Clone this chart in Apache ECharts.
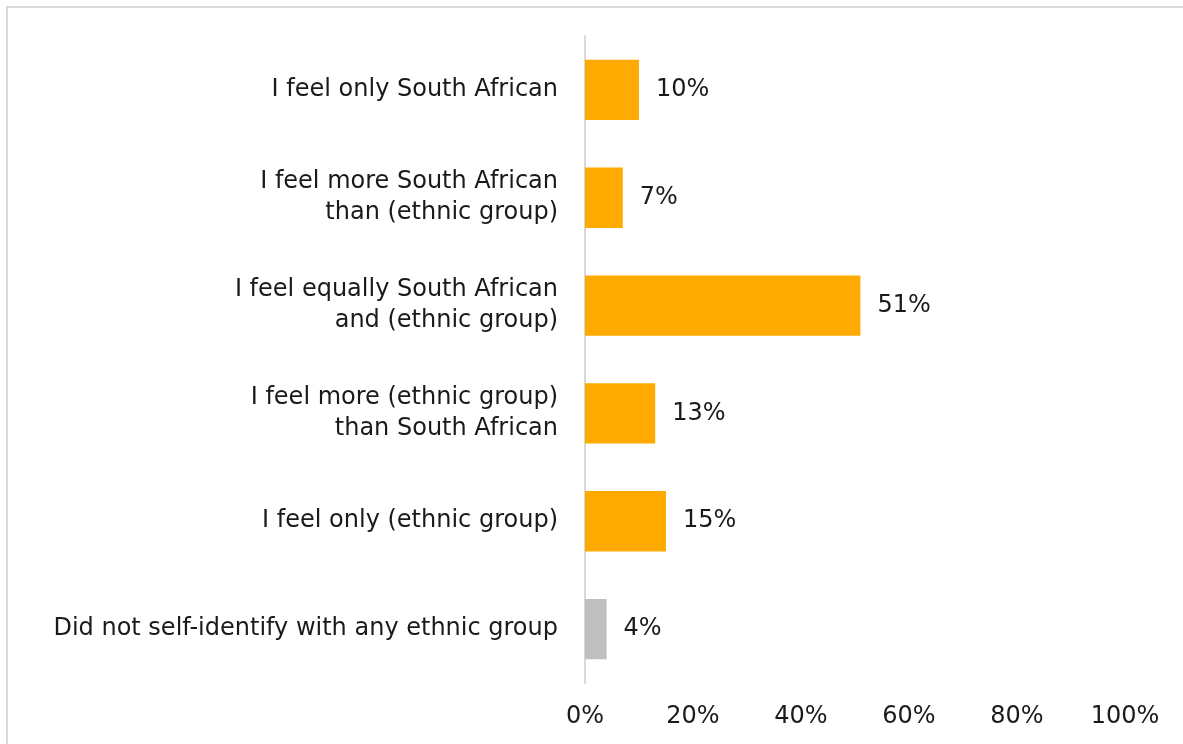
<!DOCTYPE html>
<html>
<head>
<meta charset="utf-8">
<script src="https://cdn.jsdelivr.net/npm/echarts@6/dist/echarts.min.js"></script>
<style>
  html, body { margin: 0; padding: 0; background: #fff; overflow: hidden; }
  #frame { position: absolute; left: 6px; top: 6px; width: 1200px; height: 760px; border: 2px solid #d9d9d9; box-sizing: border-box; }
  #chart { position: absolute; left: 0; top: 0; width: 1183px; height: 744px; }
</style>
</head>
<body>
<div id="frame"></div>
<div id="chart"></div>
<script>
// Survey categories, top to bottom
const categories = [
  'I feel only South African',
  'I feel more South African\nthan (ethnic group)',
  'I feel equally South African\nand (ethnic group)',
  'I feel more (ethnic group)\nthan South African',
  'I feel only (ethnic group)',
  'Did not self-identify with any ethnic group'
];
// Share of respondents, percent
const values = [10, 7, 51, 13, 15, 4];
// Bar colours per category
const barColors = ['#FFAA00', '#FFAA00', '#FFAA00', '#FFAA00', '#FFAA00', '#BFBFBF'];
// Axis ticks
const axisMin = 0;
const axisMax = 100;
const axisStep = 20;

const FONT = 'DejaVu Sans';
const TEXT = '#1a1a1a';
const SIZE = 24;

const chart = echarts.init(document.getElementById('chart'), null, { renderer: 'canvas' });
chart.setOption({
  animation: false,
  backgroundColor: 'transparent',
  grid: { left: 585, right: 58, top: 36, bottom: 61, containLabel: false },
  xAxis: {
    type: 'value',
    min: axisMin, max: axisMax, interval: axisStep,
    axisLine: { show: false },
    axisTick: { show: false },
    splitLine: { show: false },
    axisLabel: { formatter: '{value}%', color: TEXT, fontFamily: FONT, fontSize: SIZE, margin: 22 }
  },
  yAxis: {
    type: 'category',
    inverse: true,
    data: categories,
    axisLine: { show: true, lineStyle: { color: '#d9d9d9', width: 2 } },
    axisTick: { show: false },
    axisLabel: { color: TEXT, fontFamily: FONT, fontSize: SIZE, margin: 27, lineHeight: 31, align: 'right' }
  },
  series: [{
    type: 'bar',
    barCategoryGap: '44%',
    data: values.map((v, i) => ({ value: v, itemStyle: { color: barColors[i] } })),
    label: {
      show: true, position: 'right', distance: 17,
      formatter: '{c}%', color: TEXT, fontFamily: FONT, fontSize: SIZE
    }
  }]
});
</script>
</body>
</html>
